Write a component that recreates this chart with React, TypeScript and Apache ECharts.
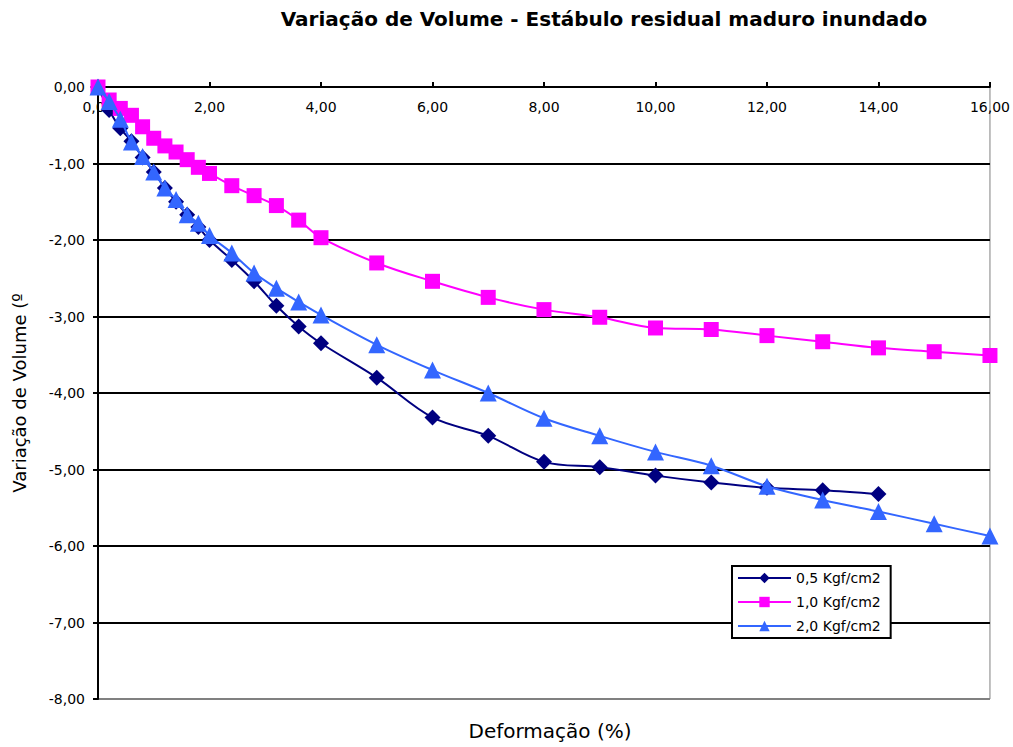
import React, { useEffect, useRef } from "react";
import * as echarts from "echarts";

const titleText = "Variação de Volume - Estábulo residual maduro inundado";
const xAxisName = "Deformação (%)";
const yAxisName = "Variação de Volume (º";

const seriesNames = ["0,5 Kgf/cm2", "1,0 Kgf/cm2", "2,0 Kgf/cm2"];

const xEarly = [0, 0.2, 0.4, 0.6, 0.8, 1.0, 1.2, 1.4, 1.6, 1.8, 2.0, 2.4, 2.8, 3.2, 3.6, 4.0];
const xLate05 = [5, 6, 7, 8, 9, 10, 11, 12, 13, 14];
const xLate = [5, 6, 7, 8, 9, 10, 11, 12, 13, 14, 15, 16];

const vol05 = [0, -0.30, -0.54, -0.71, -0.92, -1.11, -1.32, -1.50, -1.67, -1.83, -2.00, -2.26, -2.54, -2.86, -3.13, -3.35,
  -3.80, -4.32, -4.56, -4.90, -4.97, -5.08, -5.17, -5.24, -5.27, -5.32];
const vol10 = [0, -0.17, -0.28, -0.37, -0.52, -0.67, -0.77, -0.85, -0.95, -1.05, -1.13, -1.29, -1.42, -1.55, -1.74, -1.97,
  -2.30, -2.54, -2.75, -2.91, -3.01, -3.15, -3.17, -3.25, -3.33, -3.41, -3.46, -3.51];
const vol20 = [0, -0.19, -0.42, -0.72, -0.91, -1.11, -1.32, -1.47, -1.67, -1.78, -1.94, -2.17, -2.43, -2.63, -2.81, -2.98,
  -3.37, -3.70, -4.00, -4.33, -4.56, -4.77, -4.95, -5.22, -5.40, -5.55, -5.71, -5.87];

const colors = ["#000080", "#ff00ff", "#3366ff"];
const symbols = ["diamond", "rect", "triangle"];
const symbolSizes = [16, 15, 17];

const fmt = (v: number) => v.toFixed(2).replace(".", ",");

export default function App() {
  const ref = useRef<HTMLDivElement>(null);
  useEffect(() => {
    if (!ref.current) return;
    const chart = echarts.init(ref.current, undefined, { renderer: "svg" });
    const xs = [xEarly.concat(xLate05), xEarly.concat(xLate), xEarly.concat(xLate)];
    const vals = [vol05, vol10, vol20];
    const font = "DejaVu Sans";
    chart.setOption({
      animation: false,
      backgroundColor: "#ffffff",
      title: [
        {
          text: titleText,
          left: 599,
          top: 4,
          textAlign: "center",
          textStyle: { fontFamily: font, fontWeight: "bold", fontSize: 20, color: "#000" },
        },
        {
          text: xAxisName,
          left: 545,
          top: 716,
          textAlign: "center",
          textStyle: { fontFamily: font, fontWeight: "normal", fontSize: 20, color: "#000" },
        },
      ],
      legend: {
        orient: "vertical",
        left: 732,
        top: 566,
        padding: [5, 10, 5, 5],
        itemGap: 10,
        itemWidth: 53,
        itemHeight: 13,
        backgroundColor: "#ffffff",
        borderColor: "#000000",
        borderWidth: 2,
        textStyle: { fontFamily: font, fontSize: 14, color: "#000" },
        data: seriesNames,
      },
      grid: {
        left: 98,
        top: 87,
        right: 20,
        bottom: 48,
        show: true,
        borderColor: "#808080",
        borderWidth: 1,
        containLabel: false,
      },
      xAxis: {
        type: "value",
        position: "top",
        min: 0,
        max: 16,
        interval: 2,
        axisLine: { show: true, onZero: false, lineStyle: { color: "#000", width: 2 } },
        axisTick: { show: true, inside: false, length: 5, lineStyle: { color: "#000", width: 2 } },
        axisLabel: {
          inside: true,
          margin: 13,
          formatter: fmt,
          fontFamily: font,
          fontSize: 14,
          color: "#000",
        },
        splitLine: { show: false },
      },
      yAxis: {
        type: "value",
        min: -8,
        max: 0,
        interval: 1,
        name: yAxisName,
        nameLocation: "middle",
        nameGap: 70,
        nameTextStyle: { fontFamily: font, fontSize: 18, color: "#000" },
        axisLine: { show: true, onZero: false, lineStyle: { color: "#000", width: 2 } },
        axisTick: { show: true, inside: false, length: 5, lineStyle: { color: "#000", width: 2 } },
        axisLabel: { margin: 13, formatter: fmt, fontFamily: font, fontSize: 14, color: "#000" },
        splitLine: {
          show: true,
          lineStyle: {
            color: ["#808080", "#000", "#000", "#000", "#000", "#000", "#000", "#000", "#000"],
            width: 2,
          },
        },
      },
      series: seriesNames.map((name, i) => ({
        name,
        type: "line",
        smooth: 0.35,
        data: xs[i].map((x, j) => [x, vals[i][j]]),
        symbol: symbols[i],
        symbolSize: symbolSizes[i],
        showSymbol: true,
        lineStyle: { color: colors[i], width: 2 },
        itemStyle: { color: colors[i], borderWidth: 0 },
        z: i + 2,
      })),
    });
    return () => chart.dispose();
  }, []);
  return <div ref={ref} style={{ width: 1013, height: 747, position: "absolute", left: 0, top: 0 }} />;
}
